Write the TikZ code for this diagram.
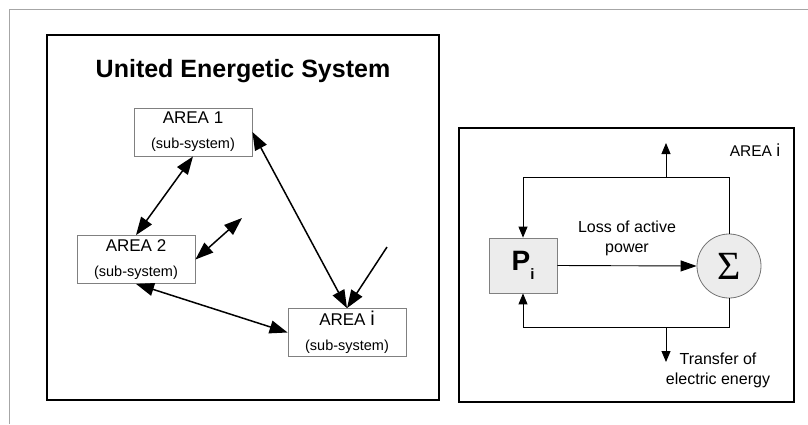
\documentclass[tikz,border=0pt]{standalone}
\usepackage{fontspec}
\setmainfont{Liberation Sans}
\newfontfamily\sigmafont{Liberation Serif}
\usetikzlibrary{arrows.meta}

\begin{document}
\begin{tikzpicture}[x=1pt,y=-1pt]
        % Define styles
        \tikzset{
            panel/.style={draw, line width=2.5pt},
            area/.style={rectangle, draw=gray, line width=0.8pt, minimum width=118pt, minimum height=48pt, inner sep=0pt, align=center, font=\fontsize{14.5}{25}\selectfont},
            link/.style={{Triangle[length=18pt,width=13pt]}-{Triangle[length=18pt,width=13pt]}, line width=1.5pt},
            feed/.style={-{Triangle[length=18pt,width=13pt]}, line width=1.5pt},
            power/.style={rectangle, draw=gray, fill=gray!15, line width=0.8pt, minimum width=68pt, minimum height=55pt, inner sep=0pt},
            sum/.style={circle, draw=gray!90!black, fill=gray!15, line width=0.8pt, minimum size=64pt, inner sep=0pt},
            arrow/.style={-{Triangle[length=11pt,width=9pt]}, line width=0.9pt},
            flow/.style={-{Triangle[length=16pt,width=11pt]}, line width=0.9pt},
            label/.style={align=center, font=\fontsize{16}{20}\selectfont}
        }
        \useasboundingbox (0,0) rectangle (808,424);

        % Page frame and the two panels
        \draw[gray!70, line width=0.8pt] (9.5,424) -- (9.5,9.5) -- (808,9.5);
        \draw[panel] (47,35) rectangle (439,400);
        \draw[panel] (459,128) rectangle (794,402);

        % United system
        \node[font=\bfseries\fontsize{25}{30}\selectfont] (title) at (243,71) {United Energetic System};
        \node[area] (area_node_1) at (193,132) {{\fontsize{17}{25}\selectfont AREA 1}\\(sub-system)};
        \node[area] (area_node_2) at (136,259.5) {{\fontsize{17}{25}\selectfont AREA 2}\\(sub-system)};
        \node[area] (area_node_i) at (347,332.5) {{\fontsize{17}{25}\selectfont AREA {\fontsize{20}{25}\selectfont i}}\\(sub-system)};
        \coordinate (loose_end_2) at (242,218);
        \coordinate (feed_start) at (387,247);

        \draw[link] (area_node_1.south) -- (area_node_2.north);
        \draw[link] (area_node_2.east) -- (loose_end_2);
        \draw[link] (area_node_2.south) -- (area_node_i.west);
        \draw[link] (area_node_1.east) -- (area_node_i.north);
        \draw[feed] (feed_start) -- (area_node_i.north);

        % Single area
        \node[font=\fontsize{15.5}{18}\selectfont] (area_label) at (755,150) {AREA {\fontsize{17.5}{18}\selectfont i}};
        \node[power] (power_node) at (523,265.5) {\fontsize{28}{30}\selectfont\bfseries P\raisebox{-9.5pt}{\fontsize{15}{15}\selectfont i}};
        \node[sum] (sum_node) at (729,266) {\sigmafont\fontsize{40}{40}\selectfont Σ};
        \node[label] (loss_label) at (627,238) {Loss of active\\power};
        \node[label] (transfer_label) at (718,370) {Transfer of\\electric energy};

        \coordinate (top_left) at (523,177);
        \coordinate (bottom_left) at (523,327);
        \coordinate (out_top_base) at (666,177);
        \coordinate (out_top) at (666,143);
        \coordinate (out_bottom_base) at (666,327);
        \coordinate (out_bottom) at (666,362);

        \draw[flow] (power_node.east) -- (sum_node.west);
        \draw[arrow] (sum_node.north) |- (top_left) -- (power_node.north);
        \draw[arrow] (sum_node.south) |- (bottom_left) -- (power_node.south);
        \draw[arrow] (out_top_base) -- (out_top);
        \draw[arrow] (out_bottom_base) -- (out_bottom);
\end{tikzpicture}
\end{document}
